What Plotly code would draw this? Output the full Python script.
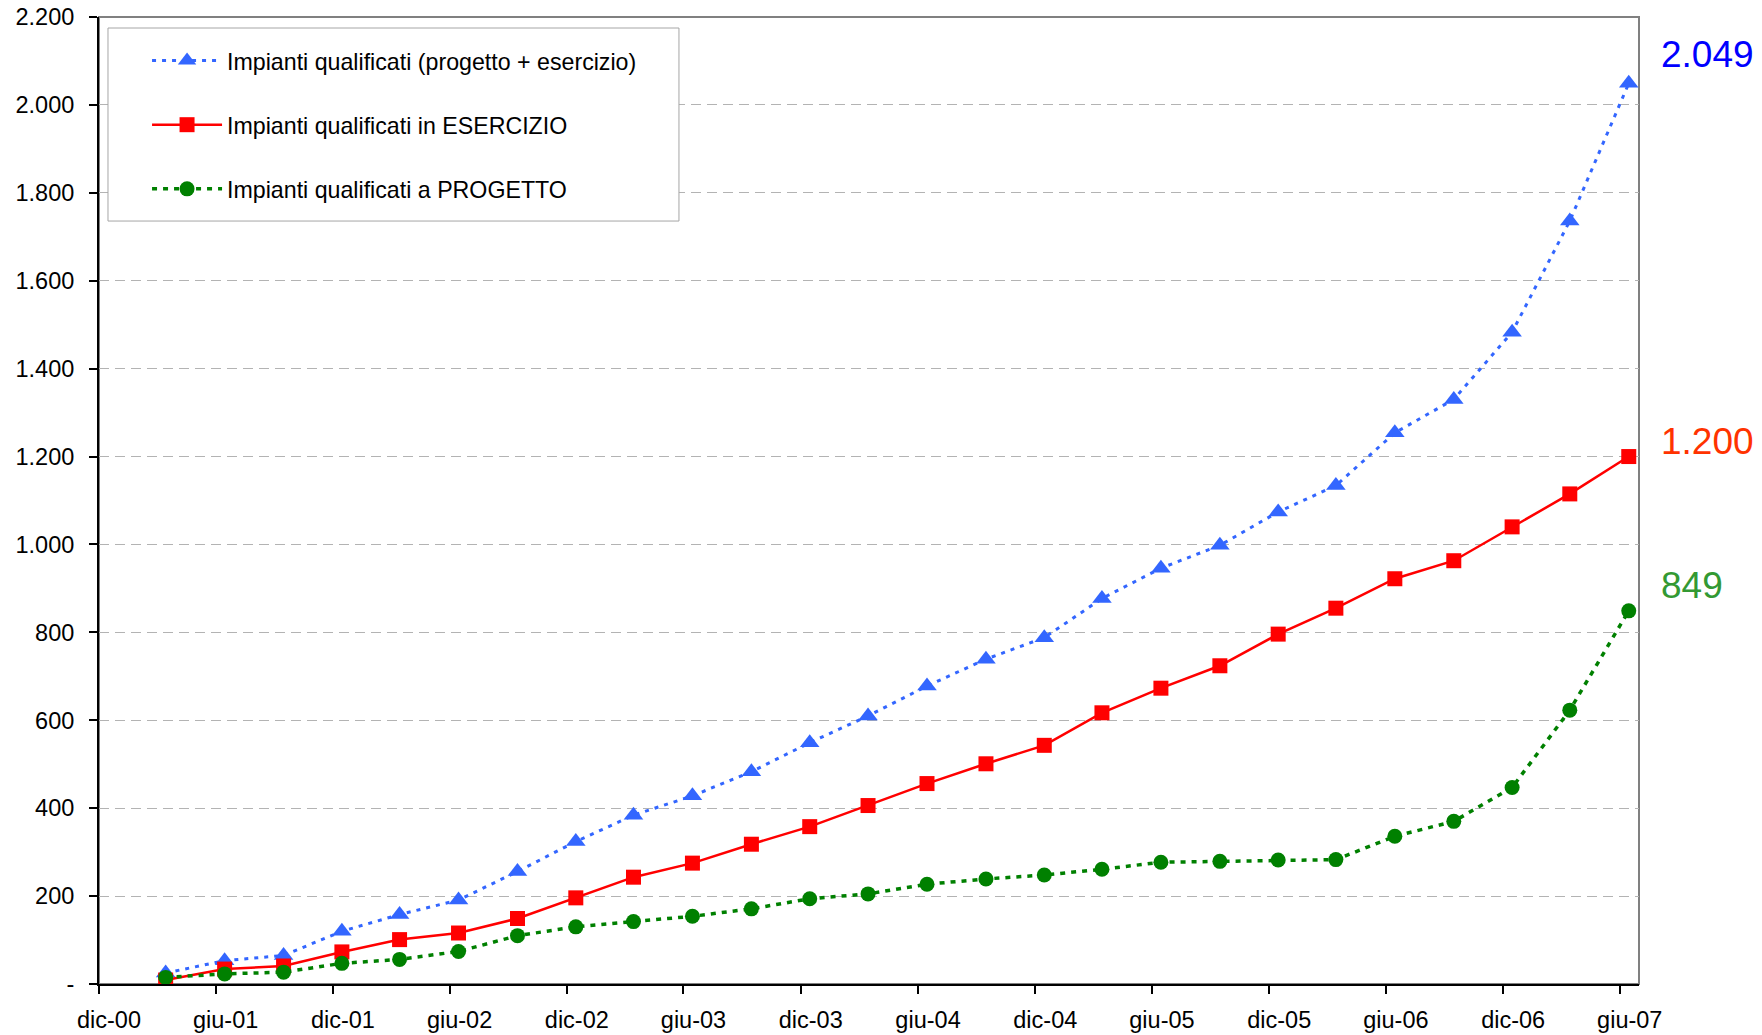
import plotly.graph_objects as go

# Quarterly observation dates
dates = [
    "2001-03-15", "2001-06-15", "2001-09-15", "2001-12-15",
    "2002-03-15", "2002-06-15", "2002-09-15", "2002-12-15",
    "2003-03-15", "2003-06-15", "2003-09-15", "2003-12-15",
    "2004-03-15", "2004-06-15", "2004-09-15", "2004-12-15",
    "2005-03-15", "2005-06-15", "2005-09-15", "2005-12-15",
    "2006-03-15", "2006-06-15", "2006-09-15", "2006-12-15",
    "2007-03-15", "2007-06-15",
]

# Number of qualified plants
totale = [25, 53, 65, 120, 158, 191, 256, 324, 384, 428, 483, 549, 610,
          678, 739, 788, 877, 946, 998, 1074, 1134, 1254, 1330, 1483, 1736, 2049]
esercizio = [9, 34, 41, 73, 101, 116, 149, 196, 243, 275, 318, 358, 406,
             456, 501, 543, 617, 673, 724, 796, 855, 922, 963, 1040, 1115, 1200]
progetto = [15, 23, 27, 47, 56, 74, 110, 130, 142, 154, 171, 194, 205,
            227, 239, 248, 261, 277, 279, 282, 283, 336, 370, 447, 623, 849]

names = [
    "Impianti qualificati (progetto + esercizio)",
    "Impianti qualificati in ESERCIZIO",
    "Impianti qualificati a PROGETTO",
]

# Axis ticks
x_tick_dates = [
    "2000-12-01", "2001-06-01", "2001-12-01", "2002-06-01", "2002-12-01",
    "2003-06-01", "2003-12-01", "2004-06-01", "2004-12-01", "2005-06-01",
    "2005-12-01", "2006-06-01", "2006-12-01", "2007-06-01",
]
x_tick_labels = [
    "dic-00", "giu-01", "dic-01", "giu-02", "dic-02", "giu-03", "dic-03",
    "giu-04", "dic-04", "giu-05", "dic-05", "giu-06", "dic-06", "giu-07",
]
y_tick_vals = [0, 200, 400, 600, 800, 1000, 1200, 1400, 1600, 1800, 2000, 2200]
y_tick_labels = ["-", "200", "400", "600", "800", "1.000", "1.200", "1.400",
                 "1.600", "1.800", "2.000", "2.200"]

FONT = "Liberation Sans, Arial, sans-serif"

fig = go.Figure()

fig.add_trace(go.Scatter(
    x=dates, y=totale, name=names[0], mode="lines+markers",
    line=dict(color="#3366FF", width=3, dash="4px,6px"),
    marker=dict(symbol="triangle-up", size=17, color="#3366FF"),
    legendgroup="a",
))
fig.add_trace(go.Scatter(
    x=dates, y=esercizio, name=names[1], mode="lines+markers",
    line=dict(color="#FF0000", width=2.5),
    marker=dict(symbol="square", size=15, color="#FF0000"),
    legendgroup="b",
))
fig.add_trace(go.Scatter(
    x=dates, y=progetto, name=names[2], mode="lines+markers",
    line=dict(color="#008000", width=3.5, dash="5px,6px"),
    marker=dict(symbol="circle", size=15, color="#008000"),
    legendgroup="c",
))

# Final values printed beside the plot
end_labels = [
    (totale[-1], "#0000FF", 0.9617),
    (esercizio[-1], "#FF3300", 0.5609),
    (progetto[-1], "#339933", 0.4121),
]
for val, col, ypos in end_labels:
    fig.add_annotation(
        x=1.013, y=ypos, xref="paper", yref="paper",
        text=f"{val:,}".replace(",", "."), showarrow=False,
        xanchor="left", yanchor="middle",
        font=dict(family=FONT, size=37, color=col),
    )

# Grey frame around the plotting area
fig.add_shape(type="rect", xref="paper", yref="paper", x0=0, y0=0, x1=1, y1=1,
              line=dict(color="#808080", width=2), layer="below")
# Legend box
fig.add_shape(type="rect", xref="paper", yref="paper",
              x0=0.00584, y0=0.789, x1=0.3766, y1=0.98862,
              line=dict(color="#a6a6a6", width=1), fillcolor="white",
              layer="above")

fig.update_layout(
    width=1762, height=1035,
    margin=dict(l=99, r=123, t=17, b=51, autoexpand=False),
    paper_bgcolor="white", plot_bgcolor="white",
    font=dict(family=FONT, size=23.5, color="black"),
    showlegend=True,
    legend=dict(
        x=0.0312, y=0.9773, xanchor="left", yanchor="top",
        bgcolor="rgba(0,0,0,0)", borderwidth=0,
        font=dict(family=FONT, size=23.2, color="black"),
        itemwidth=70, tracegroupgap=31,
    ),
)

fig.update_xaxes(
    type="date", range=["2000-12-01", "2007-07-01"],
    tickmode="array", tickvals=x_tick_dates, ticktext=x_tick_labels,
    ticks="outside", ticklen=8, tickcolor="black", tickwidth=1.5,
    showline=True, linecolor="black", linewidth=2,
    showgrid=False, zeroline=False, automargin=False,
    ticklabelshift=10, ticklabelstandoff=6,
    tickfont=dict(family=FONT, size=23.5, color="black"),
)
fig.update_yaxes(
    range=[0, 2200],
    tickmode="array", tickvals=y_tick_vals, ticktext=y_tick_labels,
    ticks="outside", ticklen=8, tickcolor="black", tickwidth=1.5,
    showline=True, linecolor="black", linewidth=2,
    showgrid=True, gridcolor="#b3b3b3", gridwidth=1, griddash="10px,6px",
    zeroline=False, automargin=False,
    ticklabelstandoff=10,
    tickfont=dict(family=FONT, size=23.5, color="black"),
)

fig.write_html("out.html")
